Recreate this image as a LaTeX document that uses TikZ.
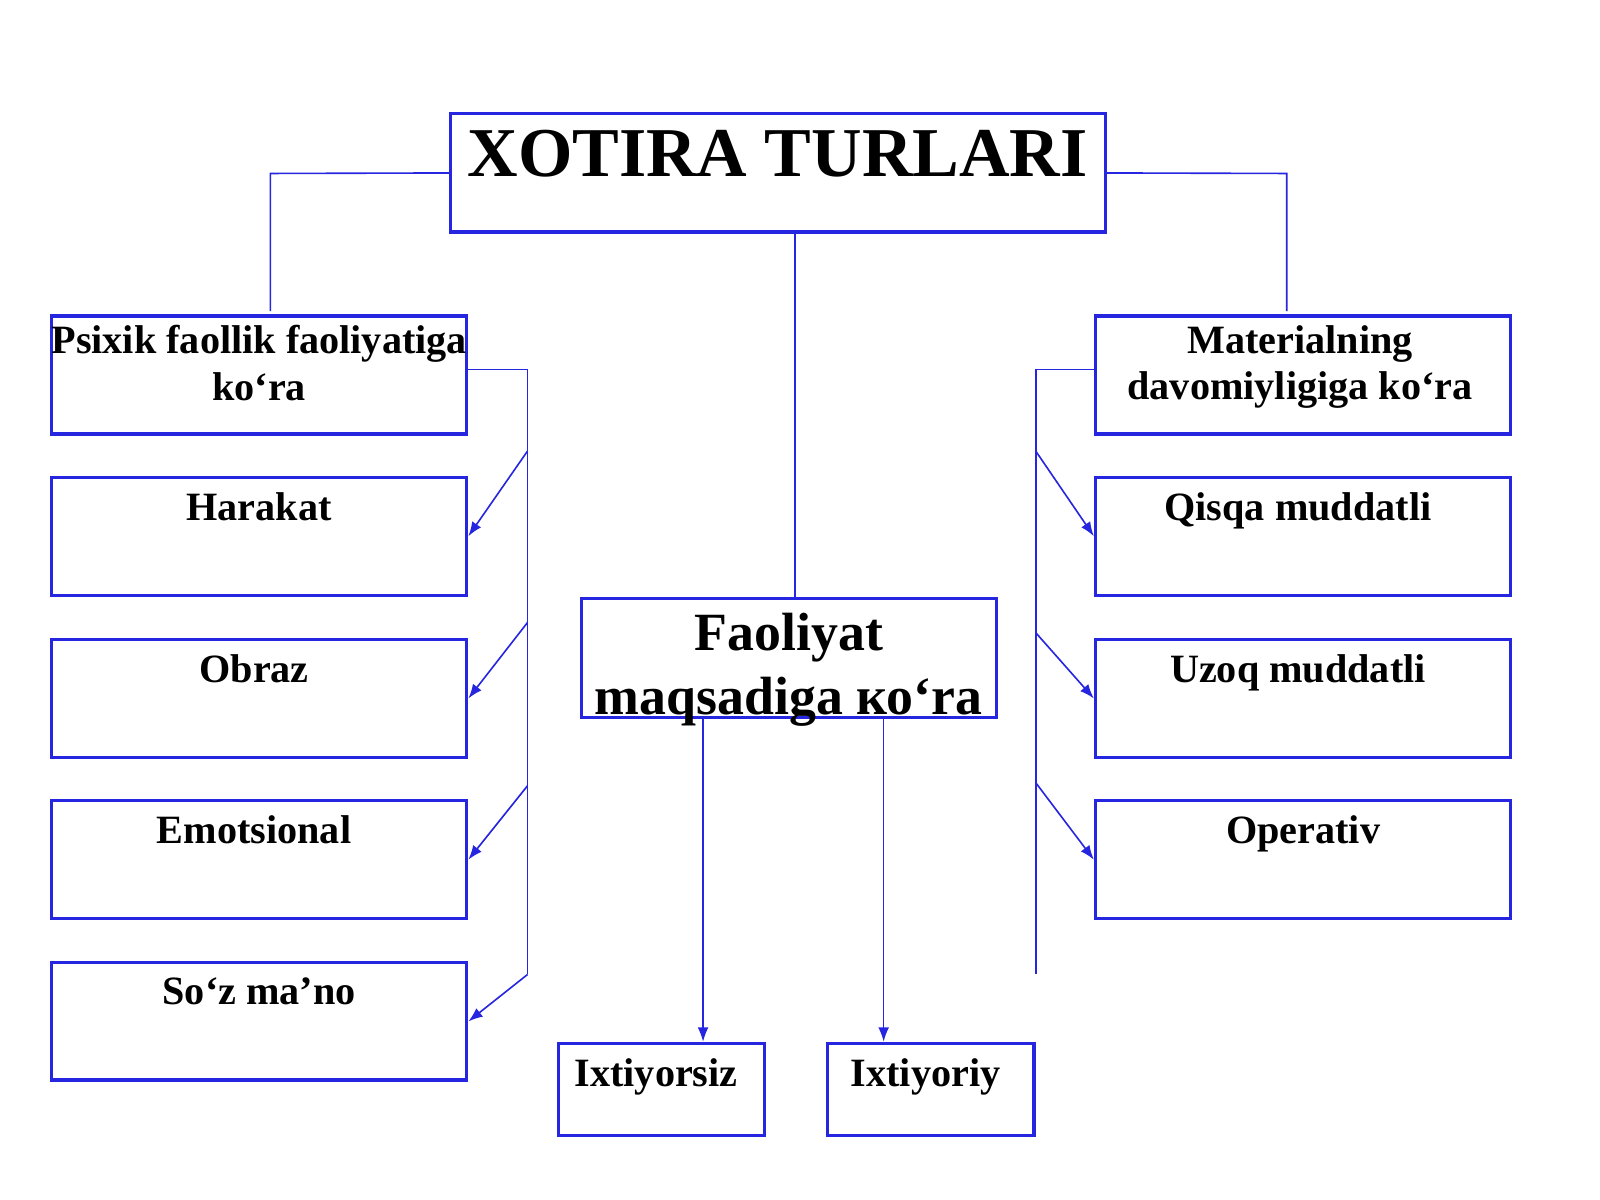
\documentclass[tikz,border=0pt]{standalone}
\usepackage{fontspec}
\setmainfont{Liberation Serif}
\usetikzlibrary{arrows.meta}
\definecolor{boxblue}{rgb}{0.15,0.15,0.88}
\tikzset{
  box/.style={draw=boxblue, line width=0.9pt, inner sep=0pt},
  txt/.style={font=\bfseries\fontsize{11.2}{13}\selectfont, align=center, anchor=north, inner sep=0pt},
  wire/.style={draw=boxblue, line width=0.45pt},
  arr/.style={wire, -{Latex[length=4pt,width=3pt]}}
}
\newcommand{\mkbox}[5]{\node[box, minimum width=#4*0.01cm-0.9pt, minimum height=#5*0.01cm-0.9pt] (#1) at (#2,#3) {};}

\begin{document}
\begin{tikzpicture}[x=0.01cm,y=-0.01cm]
\useasboundingbox (0,0) rectangle (1568,1176);
% boxes
\mkbox{top}{762.5}{169.5}{645}{119}
\mkbox{psix}{254}{367.5}{410}{119}
\mkbox{har}{254}{525.5}{410}{119}
\mkbox{obr}{254}{684.5}{410}{119}
\mkbox{emo}{254}{842.5}{410}{119}
\mkbox{soz}{254}{1001}{410}{118}
\mkbox{mat}{1277}{367.5}{410}{119}
\mkbox{qis}{1277}{525.5}{410}{119}
\mkbox{uzo}{1277}{684.5}{410}{119}
\mkbox{ope}{1277}{842.5}{410}{119}
\mkbox{fao}{773}{645}{410}{120}
\mkbox{ixs}{648.5}{1067.5}{205}{93}
\mkbox{ixy}{912}{1067.5}{206}{93}
% texts
\node[txt, font=\bfseries\fontsize{19.5}{22}\selectfont] (ttop) at (762,127) {XOTIRA TURLARI};
\node[txt, font=\bfseries\fontsize{15}{18}\selectfont] (tfao) at (773,600) {Faoliyat\\maqsadiga ко\char"60 ra};
\node[txt] (tpsix) at (254,318) {Psixik faollik faoliyatiga\\ko‘ra};
\node[txt] (thar) at (254,482) {Harakat};
\node[txt] (tobr) at (249,641) {Obraz};
\node[txt] (temo) at (249,799) {Emotsional};
\node[txt] (tsoz) at (254,958) {So‘z ma’no};
\node[txt] (tmat) at (1274,318) {Materialning\\davomiyligiga ko‘ra};
\node[txt] (tqis) at (1272,482) {Qisqa muddatli};
\node[txt] (tuzo) at (1272,641) {Uzoq muddatli};
\node[txt] (tope) at (1277,799) {Operativ};
\node[txt] (tixs) at (643,1037) {Ixtiyorsiz};
\node[txt] (tixy) at (907,1037) {Ixtiyoriy};
% bus points
\coordinate (lb) at (517,955);
\coordinate (rb) at (1015,955);
% connectors
\draw[wire] (top.west) -- (265,170) -- (265,305);
\draw[wire] (top.east) -- (1261,170) -- (1261,305);
\draw[wire] (top.south -| 779,0) -- (fao.north -| 779,0);
\draw[wire] (psix.east |- 0,362) -- (517,362) -- (lb);
\draw[wire] (mat.west |- 0,362) -- (1015,362) -- (rb);
\draw[arr] (517,442) -- (har.east);
\draw[arr] (517,610) -- (obr.east);
\draw[arr] (517,770) -- (emo.east);
\draw[arr] (lb) -- (soz.east);
\draw[arr] (1015,442) -- (qis.west);
\draw[arr] (1015,620) -- (uzo.west);
\draw[arr] (1015,767) -- (ope.west);
\draw[arr] (fao.south -| 689,0) -- (ixs.north -| 689,0);
\draw[arr] (fao.south -| 866,0) -- (ixy.north -| 866,0);
\end{tikzpicture}
\end{document}
